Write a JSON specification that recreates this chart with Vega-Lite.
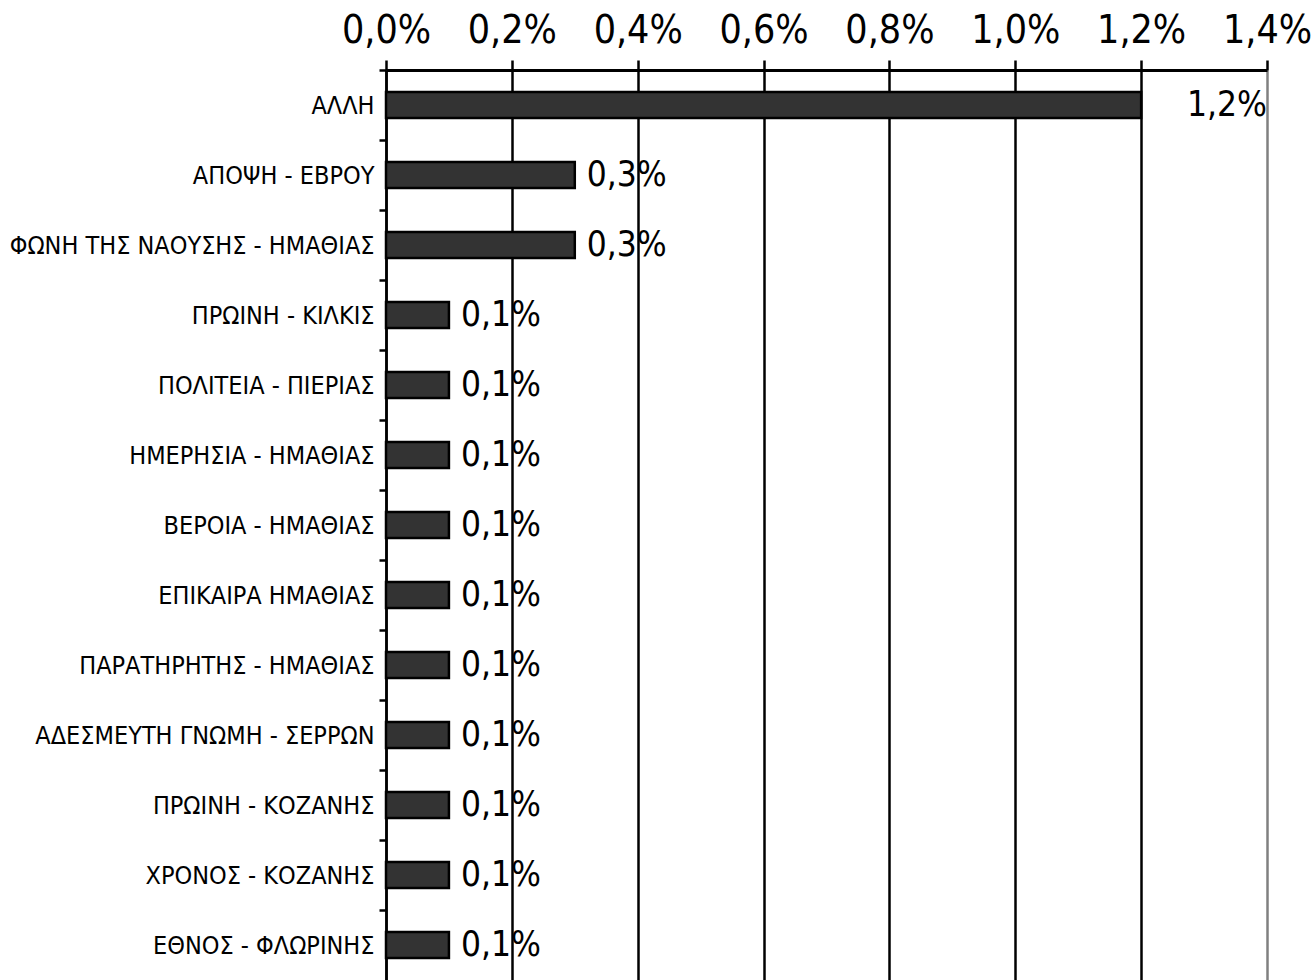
{
  "$schema": "https://vega.github.io/schema/vega-lite/v6.json",
  "autosize": "none",
  "width": 881,
  "height": 910,
  "padding": {"left": 386, "top": 70, "right": 48, "bottom": 0},
  "background": "white",
  "config": {
    "locale": {"number": {"decimal": ",", "thousands": ".", "grouping": [3], "currency": ["", " €"]}},
    "view": {"stroke": null},
    "font": "DejaVu Sans Condensed"
  },
  "data": {"values": [
    {"name": "ΑΛΛΗ", "value": 0.012},
    {"name": "ΑΠΟΨΗ - ΕΒΡΟΥ", "value": 0.003},
    {"name": "ΦΩΝΗ ΤΗΣ ΝΑΟΥΣΗΣ - ΗΜΑΘΙΑΣ", "value": 0.003},
    {"name": "ΠΡΩΙΝΗ - ΚΙΛΚΙΣ", "value": 0.001},
    {"name": "ΠΟΛΙΤΕΙΑ - ΠΙΕΡΙΑΣ", "value": 0.001},
    {"name": "ΗΜΕΡΗΣΙΑ - ΗΜΑΘΙΑΣ", "value": 0.001},
    {"name": "ΒΕΡΟΙΑ - ΗΜΑΘΙΑΣ", "value": 0.001},
    {"name": "ΕΠΙΚΑΙΡΑ ΗΜΑΘΙΑΣ", "value": 0.001},
    {"name": "ΠΑΡΑΤΗΡΗΤΗΣ - ΗΜΑΘΙΑΣ", "value": 0.001},
    {"name": "ΑΔΕΣΜΕΥΤΗ ΓΝΩΜΗ - ΣΕΡΡΩΝ", "value": 0.001},
    {"name": "ΠΡΩΙΝΗ - ΚΟΖΑΝΗΣ", "value": 0.001},
    {"name": "ΧΡΟΝΟΣ - ΚΟΖΑΝΗΣ", "value": 0.001},
    {"name": "ΕΘΝΟΣ - ΦΛΩΡΙΝΗΣ", "value": 0.001}
  ]},
  "encoding": {
    "y": {
      "field": "name", "type": "nominal", "sort": null,
      "scale": {"paddingInner": 0.63, "paddingOuter": 0.315},
      "axis": {
        "title": null, "domainColor": "black", "domainWidth": 2.5,
        "tickColor": "black", "tickWidth": 2.5, "tickSize": 7,
        "tickOffset": -35, "labelOffset": 35,
        "labelFontSize": 25, "labelColor": "black", "labelPadding": 5,
        "labelFont": "DejaVu Sans Condensed", "labelLimit": 0
      }
    }
  },
  "layer": [
    {
      "mark": {"type": "bar", "fill": "#333333", "stroke": "black", "strokeWidth": 2.5},
      "encoding": {
        "x": {
          "field": "value", "type": "quantitative",
          "scale": {"domain": [0, 0.014], "nice": false},
          "axis": {
            "orient": "top", "title": null, "format": ".1%",
            "values": [0, 0.002, 0.004, 0.006, 0.008, 0.01, 0.012, 0.014],
            "labelOverlap": false, "labelFlush": false, "labelAlign": "center",
            "domainColor": "black", "domainWidth": 3,
            "tickColor": "black", "tickWidth": 2.5, "tickSize": 10,
            "labelFontSize": 39, "labelColor": "black", "labelPadding": 10,
            "labelFont": "DejaVu Sans Condensed",
            "grid": true, "gridWidth": 2.5,
            "gridColor": {"condition": {"test": "datum.value >= 0.014", "value": "#808080"}, "value": "black"}
          }
        }
      }
    },
    {
      "transform": [{"filter": "datum.value < 0.01"}],
      "mark": {"type": "text", "align": "left", "baseline": "middle", "dx": 12, "fontSize": 35, "color": "black", "font": "DejaVu Sans Condensed"},
      "encoding": {
        "x": {"field": "value", "type": "quantitative"},
        "text": {"field": "value", "type": "quantitative", "format": ".1%"}
      }
    },
    {
      "transform": [{"filter": "datum.value >= 0.01"}],
      "mark": {"type": "text", "align": "right", "baseline": "middle", "dx": 0, "fontSize": 35, "color": "black", "font": "DejaVu Sans Condensed"},
      "encoding": {
        "x": {"datum": 0.014, "type": "quantitative"},
        "text": {"field": "value", "type": "quantitative", "format": ".1%"}
      }
    }
  ]
}
